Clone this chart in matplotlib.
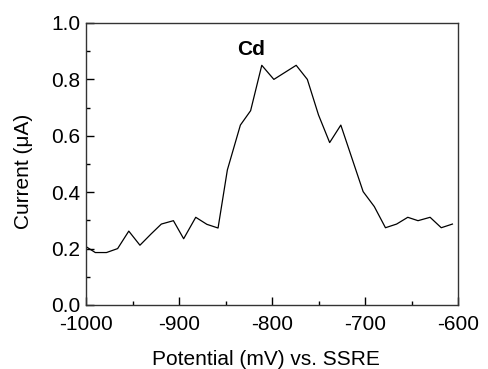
import numpy as np
import matplotlib.pyplot as plt
from matplotlib.ticker import MultipleLocator

plt.rcParams['font.family'] = ['Liberation Sans', 'DejaVu Sans']
plt.rcParams['axes.unicode_minus'] = False

# potential (mV) and current (uA)
potential = [-999, -990, -978, -966, -954, -942, -930, -919, -906, -895,
             -882, -870, -858, -848, -834, -823, -811, -798, -786, -774,
             -762, -750, -738, -726, -714, -702, -690, -678, -666, -654,
             -643, -630, -618, -606]
current = [0.205, 0.186, 0.186, 0.200, 0.262, 0.212, 0.252, 0.287, 0.299, 0.235,
           0.311, 0.286, 0.273, 0.479, 0.638, 0.689, 0.850, 0.800, 0.825, 0.850,
           0.800, 0.674, 0.576, 0.638, 0.520, 0.402, 0.349, 0.274, 0.287, 0.311,
           0.299, 0.311, 0.274, 0.287]

fig = plt.figure(figsize=(4.89, 3.69), dpi=100)
ax = fig.add_axes([86 / 489, 1 - 305 / 369, 372 / 489, 282 / 369])

ax.plot(potential, current, color="black", linewidth=0.9)
ax.text(-822, 0.907, "Cd", fontsize=15, fontweight="bold", ha="center", va="center")

ax.set_xlim(-1000, -600)
ax.set_ylim(0, 1.0)
ax.xaxis.set_major_locator(MultipleLocator(100))
ax.xaxis.set_minor_locator(MultipleLocator(50))
ax.yaxis.set_major_locator(MultipleLocator(0.2))
ax.yaxis.set_minor_locator(MultipleLocator(0.1))
ax.yaxis.set_major_formatter(plt.FormatStrFormatter("%.1f"))
ax.tick_params(which="both", direction="in", top=False, right=False, labelsize=15)
ax.tick_params(which="major", length=6, width=1)
ax.tick_params(which="minor", length=3, width=1)
ax.tick_params(axis="x", pad=7)
ax.tick_params(axis="y", pad=4)
for s in ax.spines.values():
    s.set_linewidth(1.0)
    s.set_color("#333333")

ax.set_xlabel("Potential (mV) vs. SSRE", fontsize=15)
ax.set_ylabel("Current (\u03bcA)", fontsize=15)
ax.xaxis.set_label_coords(0.485, -0.158)
ax.yaxis.set_label_coords(-0.143, 0.475)

fig.savefig("out.png", dpi=100)
